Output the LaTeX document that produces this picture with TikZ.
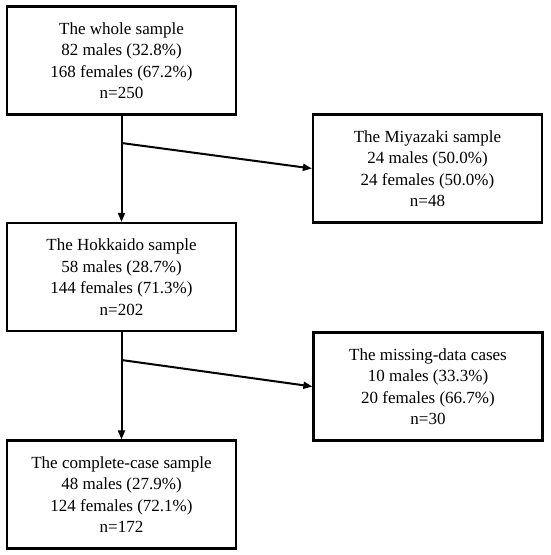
\documentclass[tikz,border=0pt]{standalone}
\usepackage{fontspec}
\setmainfont{Liberation Serif}
\usetikzlibrary{arrows.meta}
\begin{document}
\begin{tikzpicture}[x=1pt,y=-1pt,
  box/.style={draw, line width=2.2pt, minimum width=229pt, minimum height=108pt, inner sep=0pt,
    align=center, font=\fontsize{17}{21.5}\selectfont},
  conn/.style={line width=2pt, -{Triangle[length=9pt,width=7pt]}}]
\useasboundingbox (0,0) rectangle (550,555);
\node[box] (whole) at (121.5,60.5) {The whole sample\\82 males (32.8\%)\\168 females (67.2\%)\\n=250};
\node[box] (miya) at (427.5,168.5) {The Miyazaki sample\\24 males (50.0\%)\\24 females (50.0\%)\\n=48};
\node[box] (hok) at (121.5,277) {The Hokkaido sample\\58 males (28.7\%)\\144 females (71.3\%)\\n=202};
\node[box] (miss) at (428,386.5) {The missing-data cases\\10 males (33.3\%)\\20 females (66.7\%)\\n=30};
\node[box] (comp) at (121.5,494.5) {The complete-case sample\\48 males (27.9\%)\\124 females (72.1\%)\\n=172};
\coordinate (b1) at (121.5,143);
\coordinate (b2) at (121.5,360);
\draw[conn] (whole.south) -- (hok.north);
\draw[conn] (b1) -- (miya.west);
\draw[conn] (hok.south) -- (comp.north);
\draw[conn] (b2) -- (miss.west);
\end{tikzpicture}
\end{document}
